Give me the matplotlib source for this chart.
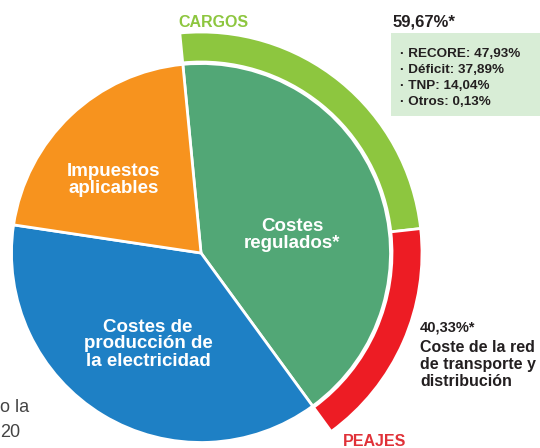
import matplotlib.pyplot as plt

plt.rcParams['font.family'] = ['Liberation Sans', 'DejaVu Sans']

# inner pie: share of the bill (%)
labels = ['Costes\nregulados*', 'Costes de\nproducción de\nla electricidad', 'Impuestos\naplicables']
shares = [41.5, 37.4, 21.1]
colors = ['#52A776', '#1E80C5', '#F7931E']

# outer ring: split of the regulated costs (%)
ring_labels = ['CARGOS', 'PEAJES']
ring_split = [59.67, 40.33]
ring_colors = ['#8DC63F', '#ED1C24']

cargos_items = ['RECORE: 47,93%', 'Déficit: 37,89%', 'TNP: 14,04%', 'Otros: 0,13%']
peajes_lines = ['Coste de la red', 'de transporte y', 'distribución']

dark = '#231F20'
cx, cy = 201, 195  # pie centre (data units = pixels, y up)

fig = plt.figure(figsize=(5.4, 4.48), dpi=100)
ax = fig.add_axes([0, 0, 1, 1])

ax.pie(shares, colors=colors, startangle=95.5, counterclock=False,
       center=(cx, cy), radius=189.5,
       wedgeprops=dict(edgecolor='white', linewidth=2))

ring_vals = [shares[0] * v / 100 for v in ring_split] + [100 - shares[0]]
ring, _ = ax.pie(ring_vals, colors=ring_colors + ['none'], startangle=95.5,
                 counterclock=False, center=(cx, cy), radius=221,
                 wedgeprops=dict(width=30, edgecolor='white', linewidth=2))
ring[2].set_visible(False)

ax.set_xlim(0, 540)
ax.set_ylim(0, 448)
ax.set_aspect('equal')
ax.axis('off')

# labels inside the pie
lab_pos = [(292, 448 - 235), (148, 448 - 344), (114, 448 - 180)]
for txt, (x, y) in zip(labels, lab_pos):
    ax.text(x, y, txt, color='white', fontsize=13.5, fontweight='bold',
            ha='center', va='center', linespacing=1.0)

# ring annotations
ax.text(178, 448 - 22, ring_labels[0], color=ring_colors[0], fontsize=11.5,
        fontweight='bold', ha='left', va='center')
ax.text(343, 448 - 441, ring_labels[1], color='#E03138', fontsize=11.5,
        fontweight='bold', ha='left', va='center')

ax.text(393, 448 - 22, '59,67%*', color=dark, fontsize=12,
        fontweight='bold', ha='left', va='center')
ax.add_patch(plt.Rectangle((391, 448 - 116), 149, 83, color='#D8EDD6', lw=0))
for i, item in enumerate(cargos_items):
    ax.text(400, 448 - 54 - i * 16, '· ' + item, color=dark, fontsize=9.7,
            fontweight='bold', ha='left', va='center')

ax.text(420, 448 - 327, '40,33%*', color=dark, fontsize=10.5,
        fontweight='bold', ha='left', va='center')
for i, line in enumerate(peajes_lines):
    ax.text(420, 448 - 347 - i * 17.5, line, color=dark, fontsize=11.5,
            fontweight='bold', ha='left', va='center')

# fragments of the body text cut by the crop
ax.text(0.5, 448 - 408, 'o la', color='#444444', fontsize=13, ha='left', va='center')
ax.text(0.5, 448 - 432, '20', color='#444444', fontsize=13, ha='left', va='center')

fig.savefig('out.png', dpi=100)
